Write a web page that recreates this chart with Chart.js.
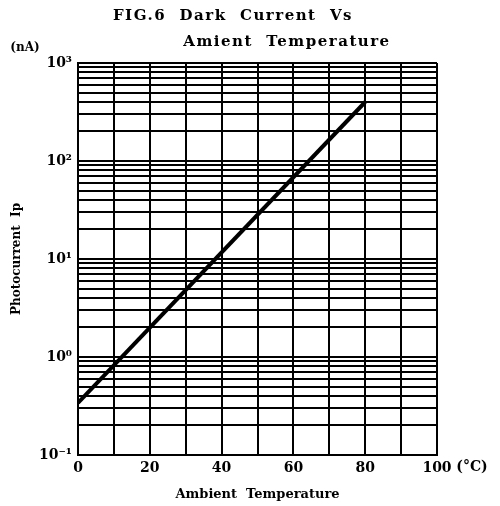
<!DOCTYPE html>
<html>
<head>
<meta charset="utf-8">
<script src="https://cdn.jsdelivr.net/npm/chart.js@4"></script>
<style>
  html, body { margin: 0; padding: 0; background: #fff; }
  #wrap { width: 500px; height: 506px; }
</style>
</head>
<body>
<div id="wrap"><canvas id="chDark" width="500" height="506"></canvas></div>
<script>
// values
var temps = [0, 80];
var darkCurrent = [0.34, 400];

var yDecades = [0.1, 1, 10, 100, 1000];
var yDecadeLabels = ['10\u207B\u00B9', '10\u2070', '10\u00B9', '10\u00B2', '10\u00B3'];
var xTicks = [0, 10, 20, 30, 40, 50, 60, 70, 80, 90, 100];
var xTickLabels = ['0', '', '20', '', '40', '', '60', '', '80', '', '100'];

var font = '"DejaVu Serif", serif';

// minor log grid: 1..9 in every decade
var yGrid = [];
for (var d = 0; d < yDecades.length - 1; d++) {
    for (var m = 1; m <= 9; m++) yGrid.push(yDecades[d] * m);
}
yGrid.push(yDecades[yDecades.length - 1]);

function decadeLabel(v) {
    var l = Math.log10(v);
    if (Math.abs(l - Math.round(l)) > 1e-6) return '';
    var i = yDecades.findIndex(function (d) { return Math.abs(Math.log10(d) - l) < 1e-6; });
    return i >= 0 ? yDecadeLabels[i] : '';
}

var extraText = {
    id: 'extraText',
    afterDraw: function (chart) {
        var ctx = chart.ctx;
        ctx.save();
        ctx.fillStyle = '#000';
        ctx.textBaseline = 'middle';
        ctx.textAlign = 'center';
        ctx.font = 'bold 15px ' + font;
        ctx.letterSpacing = '1.5px';
        ctx.fillText('FIG.6  Dark  Current  Vs', 233, 16);
        ctx.fillText('Amient  Temperature', 287, 42);
        ctx.letterSpacing = '0px';
        ctx.font = 'bold 12px ' + font;
        ctx.fillText('(nA)', 25, 48);
        ctx.font = 'bold 14px ' + font;
        ctx.fillText('(\u00B0C)', 472, 467);
        ctx.restore();
    }
};

var chDark = document.getElementById('chDark');
new Chart(chDark, {
    type: 'scatter',
    data: {
        datasets: [{
            data: temps.map(function (t, i) { return { x: t, y: darkCurrent[i] }; }),
            showLine: true,
            borderColor: '#000',
            borderWidth: 4,
            pointRadius: 0,
            tension: 0
        }]
    },
    options: {
        responsive: false,
        animation: false,
        layout: { padding: { top: 63, right: 63, left: 0, bottom: 0 } },
        plugins: { legend: { display: false }, tooltip: { enabled: false } },
        scales: {
            x: {
                type: 'linear',
                min: 0,
                max: 100,
                afterBuildTicks: function (scale) {
                    scale.ticks = xTicks.map(function (v) { return { value: v }; });
                },
                afterFit: function (scale) { scale.height = 51; },
                ticks: {
                    autoSkip: false,
                    maxRotation: 0,
                    padding: 5,
                    color: '#000',
                    font: { family: font, weight: 'bold', size: 14 },
                    callback: function (v, i) { return xTickLabels[i]; }
                },
                grid: { color: '#000', lineWidth: 2, drawTicks: false },
                border: { color: '#000', width: 2 },
                title: {
                    display: true,
                    text: 'Ambient  Temperature',
                    color: '#000',
                    font: { family: font, weight: 'bold', size: 13 },
                    padding: { top: 0, bottom: 4 }
                }
            },
            y: {
                type: 'logarithmic',
                min: 0.1,
                max: 1000,
                afterBuildTicks: function (scale) {
                    scale.ticks = yGrid.map(function (v) { return { value: v }; });
                },
                afterFit: function (scale) { scale.width = 78; },
                ticks: {
                    autoSkip: false,
                    padding: 6,
                    color: '#000',
                    font: { family: font, weight: 'bold', size: 14 },
                    callback: function (v) { return decadeLabel(v); }
                },
                grid: { color: '#000', lineWidth: 2, drawTicks: false },
                border: { color: '#000', width: 2 },
                title: {
                    display: true,
                    text: 'Photocurrent  Ip',
                    color: '#000',
                    font: { family: font, weight: 'bold', size: 12 },
                    padding: { top: 10, bottom: 0 }
                }
            }
        }
    },
    plugins: [extraText]
});
</script>
</body>
</html>
